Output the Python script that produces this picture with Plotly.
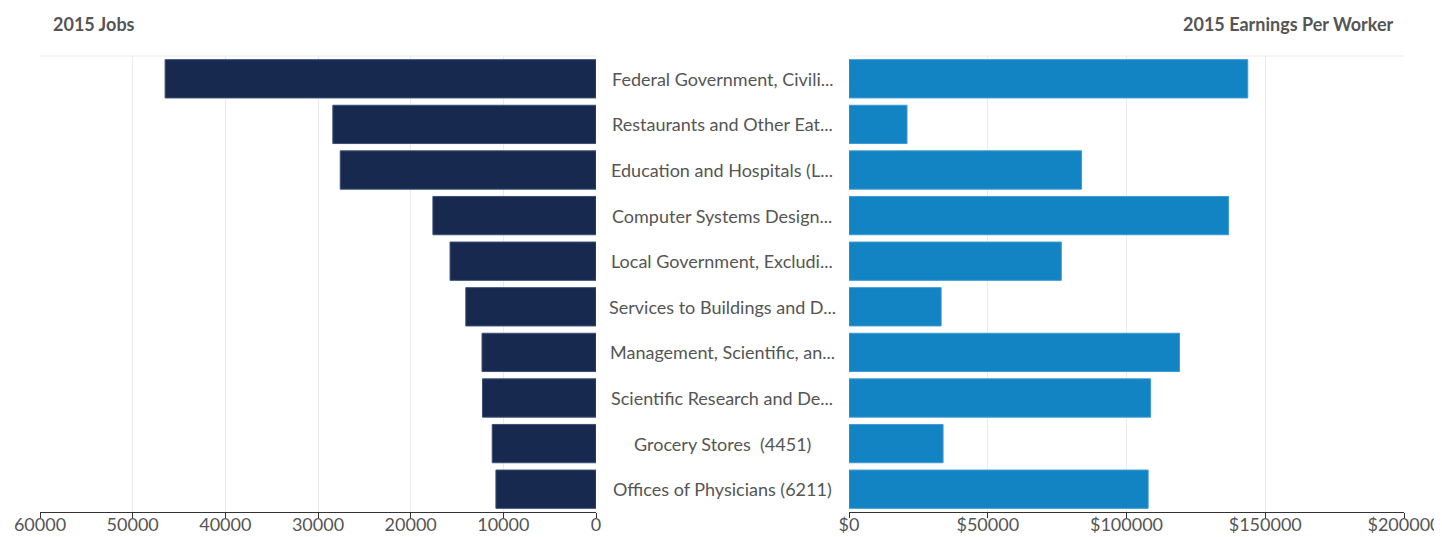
import plotly.graph_objects as go

categories = [
    "Federal Government, Civili...",
    "Restaurants and Other Eat...",
    "Education and Hospitals (L...",
    "Computer Systems Design...",
    "Local Government, Excludi...",
    "Services to Buildings and D...",
    "Management, Scientific, an...",
    "Scientific Research and De...",
    "Grocery Stores  (4451)",
    "Offices of Physicians (6211)",
]
jobs_2015 = [46500, 28400, 27600, 17600, 15750, 14050, 12300, 12250, 11200, 10800]
earnings_2015 = [143700, 20900, 83800, 136800, 76500, 33200, 119100, 108700, 33900, 107800]

jobs_ticks = [60000, 50000, 40000, 30000, 20000, 10000, 0]
earn_ticks = [0, 50000, 100000, 150000, 200000]
earn_tick_labels = ["$" + str(v) for v in earn_ticks]

FONT = "Lato, 'Open Sans', sans-serif"
TXT = "#555555"
NAVY = "#17294f"
BLUE = "#1283c3"

fig = go.Figure()
fig.add_trace(go.Bar(
    y=categories, x=jobs_2015, orientation="h",
    marker=dict(color=NAVY, line=dict(color="#3a4f78", width=1)),
    xaxis="x", yaxis="y", showlegend=False,
))
fig.add_trace(go.Bar(
    y=categories, x=earnings_2015, orientation="h",
    marker=dict(color=BLUE, line=dict(color="#3d9bd3", width=1)),
    xaxis="x2", yaxis="y2", showlegend=False,
))

W, H = 1442, 537
OFF = 7  # page offset of the figure in the browser
L, R, T, B = 39 - OFF, W - (1403 - OFF), 55 - OFF, H - (511 - OFF)
pw = W - L - R
ph = H - T - B
left_dom = [0, (595 - OFF - L) / pw]
right_dom = [(848 - OFF - L) / pw, 1]

axis_common = dict(
    showgrid=True, gridcolor="#ebebeb", gridwidth=1,
    showline=True, linecolor="#333333", linewidth=1,
    ticks="outside", ticklen=5, tickcolor="#333333",
    ticklabelstandoff=-9,
    tickfont=dict(family=FONT, size=18, color=TXT),
    zeroline=False, fixedrange=True, automargin=False,
)

fig.update_layout(
    width=W, height=H,
    margin=dict(l=L, r=R, t=T, b=B, autoexpand=False),
    paper_bgcolor="white", plot_bgcolor="white",
    bargap=0.16,
    xaxis=dict(domain=left_dom, range=[60000, 0], tickvals=jobs_ticks,
               ticktext=[str(v) for v in jobs_ticks],
               anchor="y", **axis_common),
    xaxis2=dict(domain=right_dom, range=[0, 200000], tickvals=earn_ticks,
                ticktext=earn_tick_labels, anchor="y2", **axis_common),
    yaxis=dict(autorange="reversed", showticklabels=False, showgrid=False,
               zeroline=False, anchor="x", automargin=False),
    yaxis2=dict(autorange="reversed", showticklabels=False, showgrid=False,
                zeroline=False, anchor="x2", matches="y", automargin=False),
    font=dict(family=FONT, color=TXT),
)

# light top border lines of both panels
for xr, yr in (("x domain", "y domain"), ("x2 domain", "y2 domain")):
    fig.add_shape(type="line", xref=xr, yref=yr, x0=0, x1=1, y0=1, y1=1,
                  line=dict(color="#ebebeb", width=1), layer="below")

# centered category labels
for c in categories:
    fig.add_annotation(text=c, x=0.5, xref="paper", y=c, yref="y",
                       showarrow=False, xanchor="center", yanchor="middle",
                       font=dict(family=FONT, size=18, color=TXT))

title_y = 1 + (T - (23 - OFF)) / ph
fig.add_annotation(text="<b>2015 Jobs</b>", x=(50 - OFF - L) / pw, xref="paper",
                   y=title_y, yref="paper", showarrow=False,
                   xanchor="left", yanchor="middle",
                   font=dict(family=FONT, size=18, color=TXT))
fig.add_annotation(text="<b>2015 Earnings Per Worker</b>", x=(1395 - OFF - L) / pw,
                   xref="paper", y=title_y, yref="paper",
                   showarrow=False, xanchor="right", yanchor="middle",
                   font=dict(family=FONT, size=18, color=TXT))

fig.write_html("out.html")
